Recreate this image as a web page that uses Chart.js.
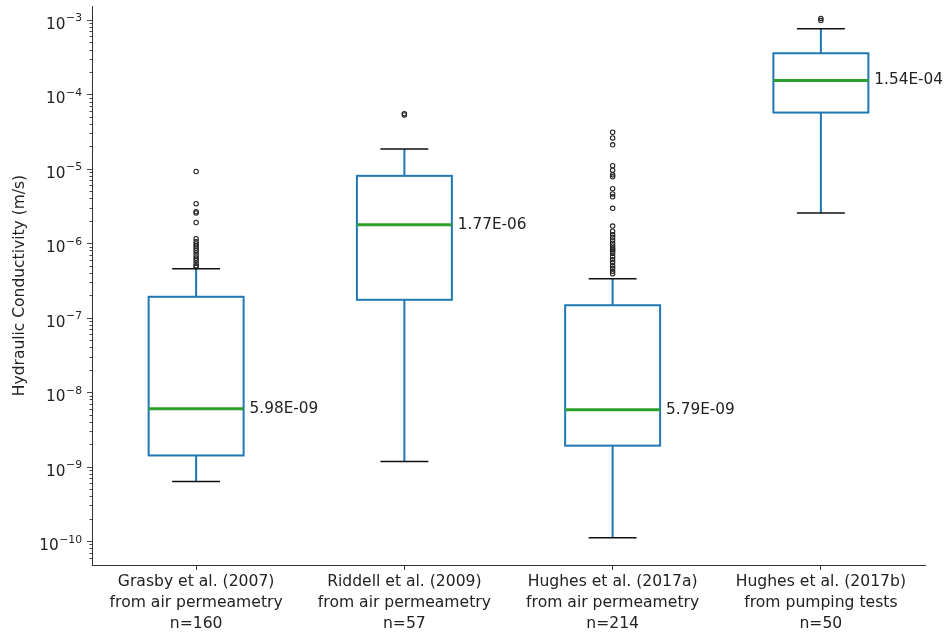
<!DOCTYPE html>
<html>
<head>
<meta charset="utf-8">
<script src="https://cdn.jsdelivr.net/npm/chart.js@4.4.1/dist/chart.umd.min.js"></script>
<style>
  html, body { margin: 0; padding: 0; background: #fff; }
  #chart { display: block; }
</style>
</head>
<body>
<canvas id="chart" width="945" height="632"></canvas>
<script>
Chart.defaults.font.family = "'DejaVu Sans', sans-serif";
Chart.defaults.font.size = 15.5;
Chart.defaults.color = '#222';

const studies = [
    ['Grasby et al. (2007)', 'from air permeametry', 'n=160'],
    ['Riddell et al. (2009)', 'from air permeametry', 'n=57'],
    ['Hughes et al. (2017a)', 'from air permeametry', 'n=214'],
    ['Hughes et al. (2017b)', 'from pumping tests', 'n=50'],
];

// box statistics, m/s
const whiskerLow = [6.3e-10, 1.17e-9, 1.11e-10, 2.55e-6];
const q1 = [1.41e-9, 1.74e-7, 1.91e-9, 5.7e-5];
const medians = [5.98e-9, 1.77e-6, 5.79e-9, 1.54e-4];
const q3 = [1.91e-7, 8.05e-6, 1.47e-7, 3.57e-4];
const whiskerHigh = [4.55e-7, 1.85e-5, 3.33e-7, 7.6e-4];

const fliers = [
    [9.2e-6, 3.4e-6, 2.65e-6, 2.55e-6, 1.9e-6, 1.15e-6, 1.05e-6, 9.8e-7, 9.2e-7,
     8.6e-7, 8.0e-7, 7.4e-7, 6.8e-7, 6.3e-7, 5.9e-7, 5.4e-7, 5.0e-7, 4.8e-7],
    [5.3e-5, 5.5e-5],
    [3.1e-5, 2.6e-5, 2.1e-5, 1.1e-5, 9.6e-6, 8.3e-6, 7.8e-6, 5.4e-6, 4.6e-6, 4.2e-6,
     2.95e-6, 1.7e-6, 1.45e-6, 1.3e-6, 1.2e-6, 1.1e-6, 1.0e-6, 9.2e-7, 8.6e-7, 8.2e-7,
     7.8e-7, 7.3e-7, 6.6e-7, 6.0e-7, 5.5e-7, 5.0e-7, 4.6e-7, 4.2e-7, 3.9e-7],
    [9.8e-4, 1.05e-3],
];

const yMin = 4.76e-11;
const yMax = 1.54e-3;

function isDecade(v) {
    const e = Math.round(Math.log10(v));
    return Math.abs(v / Math.pow(10, e) - 1) < 1e-6;
}

function sciLabel(v) {
    let e = Math.floor(Math.log10(v) + 1e-9);
    let m = v / Math.pow(10, e);
    return m.toFixed(2) + 'E' + (e < 0 ? '-' : '+') + String(Math.abs(e)).padStart(2, '0');
}

const outlierPoints = fliers.flatMap((vals, i) => vals.map(v => ({ x: i, y: v })));

const boxPlugin = {
    id: 'boxes',
    beforeDatasetsDraw(chart) {
        const ctx = chart.ctx;
        const xs = chart.scales.x;
        const ys = chart.scales.y;
        const catW = chart.chartArea.width / studies.length;
        const half = catW * 0.228;
        const capHalf = catW * 0.115;

        ctx.save();
        for (let i = 0; i < studies.length; i++) {
            const cx = xs.getPixelForValue(i);
            const yLo = ys.getPixelForValue(whiskerLow[i]);
            const y1 = ys.getPixelForValue(q1[i]);
            const yM = ys.getPixelForValue(medians[i]);
            const y3 = ys.getPixelForValue(q3[i]);
            const yHi = ys.getPixelForValue(whiskerHigh[i]);

            // whiskers
            ctx.strokeStyle = '#1f77b4';
            ctx.lineWidth = 2;
            ctx.beginPath();
            ctx.moveTo(cx, y1); ctx.lineTo(cx, yLo);
            ctx.moveTo(cx, y3); ctx.lineTo(cx, yHi);
            ctx.stroke();

            // caps
            ctx.strokeStyle = '#111';
            ctx.lineWidth = 1.5;
            ctx.beginPath();
            ctx.moveTo(cx - capHalf, yLo); ctx.lineTo(cx + capHalf, yLo);
            ctx.moveTo(cx - capHalf, yHi); ctx.lineTo(cx + capHalf, yHi);
            ctx.stroke();

            // box
            ctx.strokeStyle = '#1f77b4';
            ctx.lineWidth = 2;
            ctx.strokeRect(cx - half, y3, half * 2, y1 - y3);

            // median
            ctx.strokeStyle = '#2ca02c';
            ctx.lineWidth = 3;
            ctx.beginPath();
            ctx.moveTo(cx - half, yM); ctx.lineTo(cx + half, yM);
            ctx.stroke();

            ctx.fillStyle = '#222';
            ctx.font = "15.3px 'DejaVu Sans', sans-serif";
            ctx.textAlign = 'left';
            ctx.textBaseline = 'middle';
            ctx.fillText(sciLabel(medians[i]), cx + half + 6, yM);
        }

        // y tick marks (short between decades) and 10^n labels
        const left = chart.chartArea.left;
        ctx.strokeStyle = '#333';
        ctx.lineWidth = 0.9;
        ctx.beginPath();
        ys.ticks.forEach(t => {
            const py = Math.round(ys.getPixelForValue(t.value)) + 0.5;
            const len = isDecade(t.value) ? 5 : 2.5;
            ctx.moveTo(left, py); ctx.lineTo(left - len, py);
        });
        ctx.stroke();

        ctx.fillStyle = '#222';
        ctx.textBaseline = 'alphabetic';
        ys.ticks.filter(t => isDecade(t.value)).forEach(t => {
            const py = ys.getPixelForValue(t.value);
            const exp = '\u2212' + Math.abs(Math.round(Math.log10(t.value)));
            ctx.font = "10.8px 'DejaVu Sans', sans-serif";
            ctx.textAlign = 'right';
            const right = left - 10;
            ctx.fillText(exp, right, py + 1.5);
            const ew = ctx.measureText(exp).width;
            ctx.font = "15.3px 'DejaVu Sans', sans-serif";
            ctx.fillText('10', right - ew - 0.5, py + 9);
        });
        ctx.restore();
    }
};

new Chart(document.getElementById('chart'), {
    type: 'scatter',
    data: {
        datasets: [{
            data: outlierPoints,
            pointStyle: 'circle',
            pointRadius: 2.2,
            pointBorderWidth: 1.1,
            pointBorderColor: '#222',
            pointBackgroundColor: 'rgba(0,0,0,0)',
        }]
    },
    options: {
        responsive: false,
        animation: false,
        layout: { padding: { top: 6, right: 20, left: 0, bottom: 0 } },
        plugins: {
            legend: { display: false },
            tooltip: { enabled: false }
        },
        scales: {
            x: {
                type: 'linear',
                min: -0.5,
                max: studies.length - 0.5,
                grid: { drawOnChartArea: false, tickLength: 5, color: '#333' },
                border: { color: '#333', width: 1 },
                afterBuildTicks: (scale) => {
                    scale.ticks = studies.map((s, i) => ({ value: i }));
                },
                ticks: {
                    autoSkip: false,
                    maxRotation: 0,
                    padding: 2,
                    font: { size: 15.6, lineHeight: 1.32 },
                    callback: (value) => studies[value]
                },
                afterFit: (scale) => { scale.height = 67; }
            },
            y: {
                type: 'logarithmic',
                min: yMin,
                max: yMax,
                grid: { display: false },
                border: { color: '#333', width: 1 },
                afterBuildTicks: (scale) => {
                    scale.ticks = scale.ticks.filter(t => {
                        const e = Math.floor(Math.log10(t.value) + 1e-9);
                        const s = t.value / Math.pow(10, e);
                        return Math.abs(s - Math.round(s)) < 1e-6;
                    });
                },
                ticks: { display: false },
                title: {
                    display: true,
                    text: 'Hydraulic Conductivity (m/s)',
                    font: { size: 15.5 },
                    padding: { top: 11, bottom: 0 }
                },
                afterFit: (scale) => { scale.width = 92; }
            }
        }
    },
    plugins: [boxPlugin]
});
</script>
</body>
</html>
